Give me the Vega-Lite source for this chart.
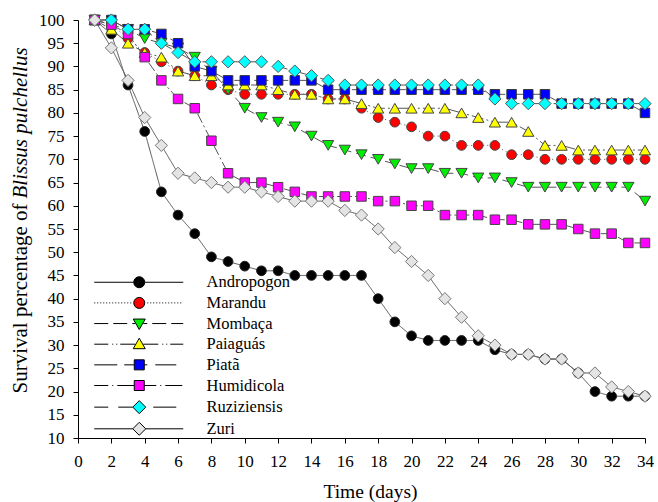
{
  "$schema": "https://vega.github.io/schema/vega-lite/v6.json",
  "width": 567,
  "height": 418,
  "autosize": {"type": "none"},
  "padding": {"left": 78, "top": 20, "right": 13, "bottom": 64},
  "background": "white",
  "config": {
    "view": {"stroke": null},
    "font": "Liberation Serif",
    "axis": {
      "grid": false,
      "domainColor": "black",
      "tickColor": "black",
      "labelColor": "black",
      "titleColor": "black",
      "labelFont": "Liberation Serif",
      "titleFont": "Liberation Serif",
      "labelFontSize": 17,
      "titleFontSize": 21,
      "titleFontWeight": "normal",
      "labelOverlap": false,
      "labelSeparation": 0,
      "tickSize": 5,
      "domainWidth": 1,
      "tickWidth": 1
    }
  },
  "datasets": {
    "survival": [
      {"grass": "Andropogon", "day": 1, "survival": 100}, {"grass": "Andropogon", "day": 2, "survival": 97}, {"grass": "Andropogon", "day": 3, "survival": 86}, {"grass": "Andropogon", "day": 4, "survival": 76}, {"grass": "Andropogon", "day": 5, "survival": 63}, {"grass": "Andropogon", "day": 6, "survival": 58}, {"grass": "Andropogon", "day": 7, "survival": 54}, {"grass": "Andropogon", "day": 8, "survival": 49}, {"grass": "Andropogon", "day": 9, "survival": 48}, {"grass": "Andropogon", "day": 10, "survival": 47},
      {"grass": "Andropogon", "day": 11, "survival": 46}, {"grass": "Andropogon", "day": 12, "survival": 46}, {"grass": "Andropogon", "day": 13, "survival": 45}, {"grass": "Andropogon", "day": 14, "survival": 45}, {"grass": "Andropogon", "day": 15, "survival": 45}, {"grass": "Andropogon", "day": 16, "survival": 45}, {"grass": "Andropogon", "day": 17, "survival": 45}, {"grass": "Andropogon", "day": 18, "survival": 40}, {"grass": "Andropogon", "day": 19, "survival": 35}, {"grass": "Andropogon", "day": 20, "survival": 32},
      {"grass": "Andropogon", "day": 21, "survival": 31}, {"grass": "Andropogon", "day": 22, "survival": 31}, {"grass": "Andropogon", "day": 23, "survival": 31}, {"grass": "Andropogon", "day": 24, "survival": 31}, {"grass": "Andropogon", "day": 25, "survival": 29}, {"grass": "Andropogon", "day": 26, "survival": 28}, {"grass": "Andropogon", "day": 27, "survival": 28}, {"grass": "Andropogon", "day": 28, "survival": 27}, {"grass": "Andropogon", "day": 29, "survival": 27}, {"grass": "Andropogon", "day": 30, "survival": 24},
      {"grass": "Andropogon", "day": 31, "survival": 20}, {"grass": "Andropogon", "day": 32, "survival": 19}, {"grass": "Andropogon", "day": 33, "survival": 19}, {"grass": "Andropogon", "day": 34, "survival": 19},

      {"grass": "Marandu", "day": 1, "survival": 100}, {"grass": "Marandu", "day": 2, "survival": 99}, {"grass": "Marandu", "day": 3, "survival": 96}, {"grass": "Marandu", "day": 4, "survival": 93}, {"grass": "Marandu", "day": 5, "survival": 91}, {"grass": "Marandu", "day": 6, "survival": 89}, {"grass": "Marandu", "day": 7, "survival": 88}, {"grass": "Marandu", "day": 8, "survival": 86}, {"grass": "Marandu", "day": 9, "survival": 85}, {"grass": "Marandu", "day": 10, "survival": 84},
      {"grass": "Marandu", "day": 11, "survival": 84}, {"grass": "Marandu", "day": 12, "survival": 84}, {"grass": "Marandu", "day": 13, "survival": 84}, {"grass": "Marandu", "day": 14, "survival": 84}, {"grass": "Marandu", "day": 15, "survival": 83}, {"grass": "Marandu", "day": 16, "survival": 83}, {"grass": "Marandu", "day": 17, "survival": 81}, {"grass": "Marandu", "day": 18, "survival": 79}, {"grass": "Marandu", "day": 19, "survival": 78}, {"grass": "Marandu", "day": 20, "survival": 77},
      {"grass": "Marandu", "day": 21, "survival": 75}, {"grass": "Marandu", "day": 22, "survival": 75}, {"grass": "Marandu", "day": 23, "survival": 73}, {"grass": "Marandu", "day": 24, "survival": 73}, {"grass": "Marandu", "day": 25, "survival": 73}, {"grass": "Marandu", "day": 26, "survival": 71}, {"grass": "Marandu", "day": 27, "survival": 71}, {"grass": "Marandu", "day": 28, "survival": 70}, {"grass": "Marandu", "day": 29, "survival": 70}, {"grass": "Marandu", "day": 30, "survival": 70},
      {"grass": "Marandu", "day": 31, "survival": 70}, {"grass": "Marandu", "day": 32, "survival": 70}, {"grass": "Marandu", "day": 33, "survival": 70}, {"grass": "Marandu", "day": 34, "survival": 70},

      {"grass": "Mombaça", "day": 1, "survival": 100}, {"grass": "Mombaça", "day": 2, "survival": 99}, {"grass": "Mombaça", "day": 3, "survival": 98}, {"grass": "Mombaça", "day": 4, "survival": 96}, {"grass": "Mombaça", "day": 5, "survival": 95}, {"grass": "Mombaça", "day": 6, "survival": 94}, {"grass": "Mombaça", "day": 7, "survival": 92}, {"grass": "Mombaça", "day": 8, "survival": 89}, {"grass": "Mombaça", "day": 9, "survival": 85}, {"grass": "Mombaça", "day": 10, "survival": 81},
      {"grass": "Mombaça", "day": 11, "survival": 79}, {"grass": "Mombaça", "day": 12, "survival": 78}, {"grass": "Mombaça", "day": 13, "survival": 77}, {"grass": "Mombaça", "day": 14, "survival": 75}, {"grass": "Mombaça", "day": 15, "survival": 73}, {"grass": "Mombaça", "day": 16, "survival": 72}, {"grass": "Mombaça", "day": 17, "survival": 71}, {"grass": "Mombaça", "day": 18, "survival": 70}, {"grass": "Mombaça", "day": 19, "survival": 69}, {"grass": "Mombaça", "day": 20, "survival": 68},
      {"grass": "Mombaça", "day": 21, "survival": 68}, {"grass": "Mombaça", "day": 22, "survival": 67}, {"grass": "Mombaça", "day": 23, "survival": 67}, {"grass": "Mombaça", "day": 24, "survival": 66}, {"grass": "Mombaça", "day": 25, "survival": 66}, {"grass": "Mombaça", "day": 26, "survival": 65}, {"grass": "Mombaça", "day": 27, "survival": 64}, {"grass": "Mombaça", "day": 28, "survival": 64}, {"grass": "Mombaça", "day": 29, "survival": 64}, {"grass": "Mombaça", "day": 30, "survival": 64},
      {"grass": "Mombaça", "day": 31, "survival": 64}, {"grass": "Mombaça", "day": 32, "survival": 64}, {"grass": "Mombaça", "day": 33, "survival": 64}, {"grass": "Mombaça", "day": 34, "survival": 61},

      {"grass": "Paiaguás", "day": 1, "survival": 100}, {"grass": "Paiaguás", "day": 2, "survival": 98}, {"grass": "Paiaguás", "day": 3, "survival": 95}, {"grass": "Paiaguás", "day": 4, "survival": 93}, {"grass": "Paiaguás", "day": 5, "survival": 92}, {"grass": "Paiaguás", "day": 6, "survival": 89}, {"grass": "Paiaguás", "day": 7, "survival": 88}, {"grass": "Paiaguás", "day": 8, "survival": 88}, {"grass": "Paiaguás", "day": 9, "survival": 86}, {"grass": "Paiaguás", "day": 10, "survival": 86},
      {"grass": "Paiaguás", "day": 11, "survival": 86}, {"grass": "Paiaguás", "day": 12, "survival": 85}, {"grass": "Paiaguás", "day": 13, "survival": 84}, {"grass": "Paiaguás", "day": 14, "survival": 84}, {"grass": "Paiaguás", "day": 15, "survival": 83}, {"grass": "Paiaguás", "day": 16, "survival": 83}, {"grass": "Paiaguás", "day": 17, "survival": 82}, {"grass": "Paiaguás", "day": 18, "survival": 81}, {"grass": "Paiaguás", "day": 19, "survival": 81}, {"grass": "Paiaguás", "day": 20, "survival": 81},
      {"grass": "Paiaguás", "day": 21, "survival": 81}, {"grass": "Paiaguás", "day": 22, "survival": 81}, {"grass": "Paiaguás", "day": 23, "survival": 80}, {"grass": "Paiaguás", "day": 24, "survival": 79}, {"grass": "Paiaguás", "day": 25, "survival": 78}, {"grass": "Paiaguás", "day": 26, "survival": 78}, {"grass": "Paiaguás", "day": 27, "survival": 76}, {"grass": "Paiaguás", "day": 28, "survival": 73}, {"grass": "Paiaguás", "day": 29, "survival": 73}, {"grass": "Paiaguás", "day": 30, "survival": 72},
      {"grass": "Paiaguás", "day": 31, "survival": 72}, {"grass": "Paiaguás", "day": 32, "survival": 72}, {"grass": "Paiaguás", "day": 33, "survival": 72}, {"grass": "Paiaguás", "day": 34, "survival": 72},

      {"grass": "Piatã", "day": 1, "survival": 100}, {"grass": "Piatã", "day": 2, "survival": 100}, {"grass": "Piatã", "day": 3, "survival": 98}, {"grass": "Piatã", "day": 4, "survival": 98}, {"grass": "Piatã", "day": 5, "survival": 97}, {"grass": "Piatã", "day": 6, "survival": 95}, {"grass": "Piatã", "day": 7, "survival": 90}, {"grass": "Piatã", "day": 8, "survival": 89}, {"grass": "Piatã", "day": 9, "survival": 87}, {"grass": "Piatã", "day": 10, "survival": 87},
      {"grass": "Piatã", "day": 11, "survival": 87}, {"grass": "Piatã", "day": 12, "survival": 87}, {"grass": "Piatã", "day": 13, "survival": 87}, {"grass": "Piatã", "day": 14, "survival": 87}, {"grass": "Piatã", "day": 15, "survival": 85}, {"grass": "Piatã", "day": 16, "survival": 85}, {"grass": "Piatã", "day": 17, "survival": 85}, {"grass": "Piatã", "day": 18, "survival": 85}, {"grass": "Piatã", "day": 19, "survival": 85}, {"grass": "Piatã", "day": 20, "survival": 85},
      {"grass": "Piatã", "day": 21, "survival": 85}, {"grass": "Piatã", "day": 22, "survival": 85}, {"grass": "Piatã", "day": 23, "survival": 85}, {"grass": "Piatã", "day": 24, "survival": 85}, {"grass": "Piatã", "day": 25, "survival": 84}, {"grass": "Piatã", "day": 26, "survival": 84}, {"grass": "Piatã", "day": 27, "survival": 84}, {"grass": "Piatã", "day": 28, "survival": 84}, {"grass": "Piatã", "day": 29, "survival": 82}, {"grass": "Piatã", "day": 30, "survival": 82},
      {"grass": "Piatã", "day": 31, "survival": 82}, {"grass": "Piatã", "day": 32, "survival": 82}, {"grass": "Piatã", "day": 33, "survival": 82}, {"grass": "Piatã", "day": 34, "survival": 80},

      {"grass": "Humidicola", "day": 1, "survival": 100}, {"grass": "Humidicola", "day": 2, "survival": 99}, {"grass": "Humidicola", "day": 3, "survival": 97}, {"grass": "Humidicola", "day": 4, "survival": 92}, {"grass": "Humidicola", "day": 5, "survival": 87}, {"grass": "Humidicola", "day": 6, "survival": 83}, {"grass": "Humidicola", "day": 7, "survival": 81}, {"grass": "Humidicola", "day": 8, "survival": 74}, {"grass": "Humidicola", "day": 9, "survival": 67}, {"grass": "Humidicola", "day": 10, "survival": 65},
      {"grass": "Humidicola", "day": 11, "survival": 65}, {"grass": "Humidicola", "day": 12, "survival": 64}, {"grass": "Humidicola", "day": 13, "survival": 63}, {"grass": "Humidicola", "day": 14, "survival": 62}, {"grass": "Humidicola", "day": 15, "survival": 62}, {"grass": "Humidicola", "day": 16, "survival": 62}, {"grass": "Humidicola", "day": 17, "survival": 62}, {"grass": "Humidicola", "day": 18, "survival": 61}, {"grass": "Humidicola", "day": 19, "survival": 61}, {"grass": "Humidicola", "day": 20, "survival": 60},
      {"grass": "Humidicola", "day": 21, "survival": 60}, {"grass": "Humidicola", "day": 22, "survival": 58}, {"grass": "Humidicola", "day": 23, "survival": 58}, {"grass": "Humidicola", "day": 24, "survival": 58}, {"grass": "Humidicola", "day": 25, "survival": 57}, {"grass": "Humidicola", "day": 26, "survival": 57}, {"grass": "Humidicola", "day": 27, "survival": 56}, {"grass": "Humidicola", "day": 28, "survival": 56}, {"grass": "Humidicola", "day": 29, "survival": 56}, {"grass": "Humidicola", "day": 30, "survival": 55},
      {"grass": "Humidicola", "day": 31, "survival": 54}, {"grass": "Humidicola", "day": 32, "survival": 54}, {"grass": "Humidicola", "day": 33, "survival": 52}, {"grass": "Humidicola", "day": 34, "survival": 52},

      {"grass": "Ruziziensis", "day": 1, "survival": 100}, {"grass": "Ruziziensis", "day": 2, "survival": 100}, {"grass": "Ruziziensis", "day": 3, "survival": 98}, {"grass": "Ruziziensis", "day": 4, "survival": 98}, {"grass": "Ruziziensis", "day": 5, "survival": 95}, {"grass": "Ruziziensis", "day": 6, "survival": 93}, {"grass": "Ruziziensis", "day": 7, "survival": 91}, {"grass": "Ruziziensis", "day": 8, "survival": 91}, {"grass": "Ruziziensis", "day": 9, "survival": 91}, {"grass": "Ruziziensis", "day": 10, "survival": 91},
      {"grass": "Ruziziensis", "day": 11, "survival": 91}, {"grass": "Ruziziensis", "day": 12, "survival": 90}, {"grass": "Ruziziensis", "day": 13, "survival": 89}, {"grass": "Ruziziensis", "day": 14, "survival": 88}, {"grass": "Ruziziensis", "day": 15, "survival": 87}, {"grass": "Ruziziensis", "day": 16, "survival": 86}, {"grass": "Ruziziensis", "day": 17, "survival": 86}, {"grass": "Ruziziensis", "day": 18, "survival": 86}, {"grass": "Ruziziensis", "day": 19, "survival": 86}, {"grass": "Ruziziensis", "day": 20, "survival": 86},
      {"grass": "Ruziziensis", "day": 21, "survival": 86}, {"grass": "Ruziziensis", "day": 22, "survival": 86}, {"grass": "Ruziziensis", "day": 23, "survival": 86}, {"grass": "Ruziziensis", "day": 24, "survival": 86}, {"grass": "Ruziziensis", "day": 25, "survival": 83}, {"grass": "Ruziziensis", "day": 26, "survival": 82}, {"grass": "Ruziziensis", "day": 27, "survival": 82}, {"grass": "Ruziziensis", "day": 28, "survival": 82}, {"grass": "Ruziziensis", "day": 29, "survival": 82}, {"grass": "Ruziziensis", "day": 30, "survival": 82},
      {"grass": "Ruziziensis", "day": 31, "survival": 82}, {"grass": "Ruziziensis", "day": 32, "survival": 82}, {"grass": "Ruziziensis", "day": 33, "survival": 82}, {"grass": "Ruziziensis", "day": 34, "survival": 82},

      {"grass": "Zuri", "day": 1, "survival": 100}, {"grass": "Zuri", "day": 2, "survival": 94}, {"grass": "Zuri", "day": 3, "survival": 87}, {"grass": "Zuri", "day": 4, "survival": 79}, {"grass": "Zuri", "day": 5, "survival": 73}, {"grass": "Zuri", "day": 6, "survival": 67}, {"grass": "Zuri", "day": 7, "survival": 66}, {"grass": "Zuri", "day": 8, "survival": 65}, {"grass": "Zuri", "day": 9, "survival": 64}, {"grass": "Zuri", "day": 10, "survival": 64},
      {"grass": "Zuri", "day": 11, "survival": 63}, {"grass": "Zuri", "day": 12, "survival": 62}, {"grass": "Zuri", "day": 13, "survival": 61}, {"grass": "Zuri", "day": 14, "survival": 61}, {"grass": "Zuri", "day": 15, "survival": 61}, {"grass": "Zuri", "day": 16, "survival": 59}, {"grass": "Zuri", "day": 17, "survival": 58}, {"grass": "Zuri", "day": 18, "survival": 55}, {"grass": "Zuri", "day": 19, "survival": 51}, {"grass": "Zuri", "day": 20, "survival": 48},
      {"grass": "Zuri", "day": 21, "survival": 45}, {"grass": "Zuri", "day": 22, "survival": 40}, {"grass": "Zuri", "day": 23, "survival": 36}, {"grass": "Zuri", "day": 24, "survival": 32}, {"grass": "Zuri", "day": 25, "survival": 30}, {"grass": "Zuri", "day": 26, "survival": 28}, {"grass": "Zuri", "day": 27, "survival": 28}, {"grass": "Zuri", "day": 28, "survival": 27}, {"grass": "Zuri", "day": 29, "survival": 27}, {"grass": "Zuri", "day": 30, "survival": 24},
      {"grass": "Zuri", "day": 31, "survival": 24}, {"grass": "Zuri", "day": 32, "survival": 21}, {"grass": "Zuri", "day": 33, "survival": 20}, {"grass": "Zuri", "day": 34, "survival": 19}
    ]
  },
  "data": {"name": "survival"},
  "encoding": {
    "x": {
      "field": "day", "type": "quantitative",
      "scale": {"domain": [0, 34], "nice": false, "zero": false},
      "axis": {
        "values": [0, 2, 4, 6, 8, 10, 12, 14, 16, 18, 20, 22, 24, 26, 28, 30, 32, 34],
        "labelPadding": 10,
        "labelFlush": false,
        "labelOverlap": false,
        "labelSeparation": 0,
        "title": "Time (days)",
        "titleFontSize": 19.5,
        "titleX": 292,
        "titleY": 59,
        "titleBaseline": "alphabetic",
        "titleAlign": "center"
      }
    }
  },
  "layer": [
    {
      "mark": {"type": "line", "strokeWidth": 1, "color": "#555555"},
      "encoding": {
        "y": {
          "field": "survival", "type": "quantitative",
          "scale": {"domain": [10, 100], "nice": false, "zero": false},
          "axis": {
            "values": [10, 15, 20, 25, 30, 35, 40, 45, 50, 55, 60, 65, 70, 75, 80, 85, 90, 95, 100],
            "labelPadding": 9,
            "labelFlush": false,
            "labelOverlap": false,
            "title": "Survival percentage of",
            "titleAngle": 270,
            "titleAlign": "left",
            "titleBaseline": "alphabetic",
            "titleX": -52,
            "titleY": 373
          }
        },
        "detail": {"field": "grass", "type": "nominal"},
        "strokeDash": {
          "field": "grass", "type": "nominal",
          "scale": {
            "domain": ["Andropogon", "Marandu", "Mombaça", "Paiaguás", "Piatã", "Humidicola", "Ruziziensis", "Zuri"],
            "range": [[1, 0], [1, 3], [10, 5], [12, 3, 2, 3, 2, 3], [14, 6], [10, 3, 2, 3], [14, 10], [1, 0]]
          },
          "legend": null
        },
        "order": {"field": "day", "type": "quantitative"}
      }
    },
    {
      "mark": {"type": "point", "filled": true, "opacity": 1, "strokeWidth": 1},
      "encoding": {
        "y": {
          "field": "survival", "type": "quantitative",
          "scale": {"domain": [10, 100], "nice": false, "zero": false},
          "axis": {
            "orient": "left",
            "domain": false,
            "ticks": false,
            "labels": false,
            "title": "Blissus pulchellus",
            "titleFontStyle": "italic",
            "titleAngle": 270,
            "titleAlign": "left",
            "titleBaseline": "alphabetic",
            "titleX": -52,
            "titleY": 178
          }
        },
        "shape": {
          "field": "grass", "type": "nominal",
          "scale": {
            "domain": ["Andropogon", "Marandu", "Mombaça", "Paiaguás", "Piatã", "Humidicola", "Ruziziensis", "Zuri"],
            "range": ["circle", "circle", "triangle-down", "triangle-up", "square", "square", "diamond", "diamond"]
          },
          "legend": null
        },
        "fill": {
          "field": "grass", "type": "nominal",
          "scale": {
            "domain": ["Andropogon", "Marandu", "Mombaça", "Paiaguás", "Piatã", "Humidicola", "Ruziziensis", "Zuri"],
            "range": ["#000000", "#ff0000", "#00ee00", "#ffff00", "#0000ff", "#ff00ff", "#00ffff", "#e4e4e4"]
          },
          "legend": null
        },
        "stroke": {
          "field": "grass", "type": "nominal",
          "scale": {
            "domain": ["Andropogon", "Marandu", "Mombaça", "Paiaguás", "Piatã", "Humidicola", "Ruziziensis", "Zuri"],
            "range": ["#222222", "#444444", "#444444", "#444444", "#333333", "#444444", "#555555", "#777777"]
          },
          "legend": null
        },
        "size": {
          "field": "grass", "type": "nominal",
          "scale": {
            "type": "ordinal",
            "domain": ["Andropogon", "Marandu", "Mombaça", "Paiaguás", "Piatã", "Humidicola", "Ruziziensis", "Zuri"],
            "range": [95, 95, 125, 125, 90, 90, 150, 150]
          },
          "legend": null
        }
      }
    },
    {
      "transform": [{"filter": "datum.day == 1"}],
      "mark": {"type": "point", "filled": true, "opacity": 0},
      "encoding": {
        "y": {"field": "survival", "type": "quantitative", "scale": {"domain": [10, 100]}, "axis": null},
        "shape": {
          "field": "grass", "type": "nominal",
          "scale": {
            "domain": ["Andropogon", "Marandu", "Mombaça", "Paiaguás", "Piatã", "Humidicola", "Ruziziensis", "Zuri"],
            "range": [
              "M-45,0H-5.5M5.5,0H44M5.5,0A5.5,5.5,0,1,1,-5.5,0A5.5,5.5,0,1,1,5.5,0Z",
              "M-45,0h1M-42,0h1M-39,0h1M-36,0h1M-33,0h1M-30,0h1M-27,0h1M-24,0h1M-21,0h1M-18,0h1M-15,0h1M-12,0h1M-9,0h1M8,0h1M11,0h1M14,0h1M17,0h1M20,0h1M23,0h1M26,0h1M29,0h1M32,0h1M35,0h1M38,0h1M41,0h1M5.5,0A5.5,5.5,0,1,1,-5.5,0A5.5,5.5,0,1,1,5.5,0Z",
              "M-45,0H-31M-26,0H-12M-7,0H-4M4,0H8M13,0H27M32,0H44M-6,-4.5L6,-4.5L0,6Z",
              "M-45,0H-31M-27,0h1M-23,0h1M-19,0H-4M4,0H19M23,0h1M27,0h1M31,0H44M-6,4.5L6,4.5L0,-6Z",
              "M-45,0H-22M-15,0H-5M5,0H8M16,0H37M-5,-5H5V5H-5Z",
              "M-45,0H-31M-27,0h1M-22,0H-5M5,0H17M21,0h1M26,0H43M-5,-5H5V5H-5Z",
              "M-45,0H-31M-21,0H-6.5M14,0H37M0,-6.5L6.5,0L0,6.5L-6.5,0Z",
              "M-45,0H-6.5M6.5,0H44M0,-6.5L6.5,0L0,6.5L-6.5,0Z"
            ]
          },
          "legend": {
            "title": null, "orient": "none", "legendX": 53, "legendY": 254, "padding": 0,
            "symbolSize": 4, "symbolOpacity": 1, "symbolStrokeWidth": 1,
            "labelFont": "Liberation Serif", "labelFontSize": 16.5, "labelColor": "black",
            "labelOffset": 59, "rowPadding": 3.65, "labelLimit": 0
          }
        },
        "fill": {
          "field": "grass", "type": "nominal",
          "scale": {
            "domain": ["Andropogon", "Marandu", "Mombaça", "Paiaguás", "Piatã", "Humidicola", "Ruziziensis", "Zuri"],
            "range": ["#000000", "#ff0000", "#00ee00", "#ffff00", "#0000ff", "#ff00ff", "#00ffff", "#e4e4e4"]
          },
          "legend": {
            "title": null, "orient": "none", "legendX": 53, "legendY": 254, "padding": 0,
            "symbolSize": 4, "symbolOpacity": 1, "symbolStrokeWidth": 1,
            "labelFont": "Liberation Serif", "labelFontSize": 16.5, "labelColor": "black",
            "labelOffset": 59, "rowPadding": 3.65, "labelLimit": 0
          }
        },
        "stroke": {
          "field": "grass", "type": "nominal",
          "scale": {
            "domain": ["Andropogon", "Marandu", "Mombaça", "Paiaguás", "Piatã", "Humidicola", "Ruziziensis", "Zuri"],
            "range": ["#000000", "#000000", "#000000", "#000000", "#000000", "#000000", "#000000", "#000000"]
          },
          "legend": {
            "title": null, "orient": "none", "legendX": 53, "legendY": 254, "padding": 0,
            "symbolSize": 4, "symbolOpacity": 1, "symbolStrokeWidth": 1,
            "labelFont": "Liberation Serif", "labelFontSize": 16.5, "labelColor": "black",
            "labelOffset": 59, "rowPadding": 3.65, "labelLimit": 0
          }
        }
      }
    }
  ],
  "resolve": {
    "scale": {"y": "independent", "shape": "independent", "fill": "independent", "stroke": "independent", "size": "independent"},
    "axis": {"y": "independent"}
  }
}
